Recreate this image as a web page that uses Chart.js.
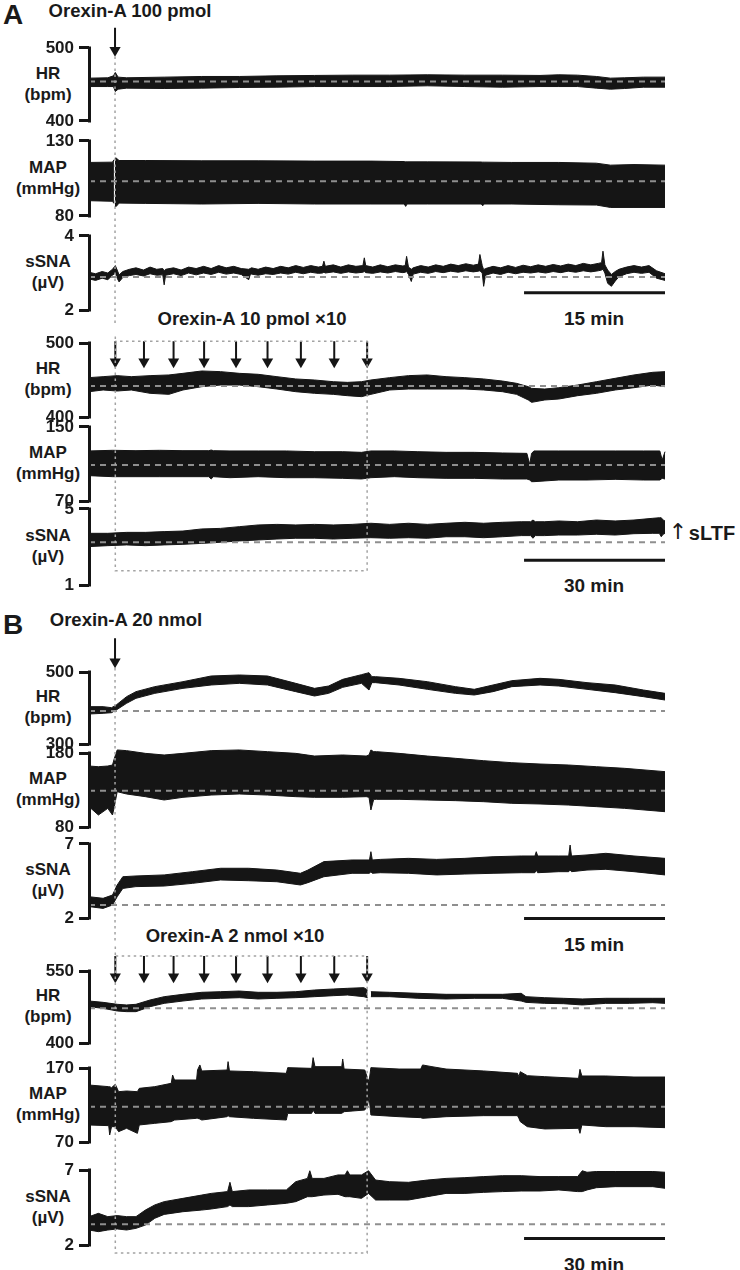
<!DOCTYPE html>
<html>
<head>
<meta charset="utf-8">
<script src="https://cdn.jsdelivr.net/npm/chart.js@4.4.1/dist/chart.umd.min.js"></script>
<style>
  body { margin: 0; background: #fff; }
  #fig { position: relative; width: 740px; height: 1270px; overflow: hidden;
         font-family: 'Liberation Sans', Arial, sans-serif; font-weight: bold; color: #1a1a1a; }
  #fig canvas { position: absolute; left: 0; }
  .t { position: absolute; transform: translate(-50%, -50%); white-space: nowrap; line-height: 1; text-align: center; }
</style>
</head>
<body>
<div id="fig"></div>
<script>
// ---- time spans (min) and injections ----
const spanA1 = 61.3, spanA2 = 122.6, spanB1 = 61.3, spanB2 = 122.6;
const injA1 = [2.77];
const injA2 = [5.6, 11.7, 18.0, 24.5, 31.3, 38.0, 45.1, 52.2, 59.2];
const injB1 = [2.77];
const injB2 = [5.6, 11.7, 18.0, 24.5, 31.3, 38.0, 45.1, 52.2, 59.2];
const barA1 = 15, barA2 = 30, barB1 = 15, barB2 = 30;

// ---- A: Orexin-A 100 pmol ----
const tHrA1 = [0, 2.0, 2.6, 2.8, 3.1, 4, 8, 12, 16, 20, 24, 28, 32, 36, 40, 44, 48, 50, 52, 54, 55.5, 57, 59, 61.3];
const hrA1Hi = [458.7, 459.2, 461.9, 466.5, 460.1, 459.2, 460.1, 461.0, 461.0, 461.9, 462.4, 462.8, 462.8, 463.3, 462.8, 462.8, 462.4, 463.3, 462.8, 461.0, 458.7, 459.2, 460.1, 460.1];
const hrA1Lo = [447.2, 447.2, 447.2, 440.4, 443.6, 445.0, 444.5, 445.0, 445.9, 446.3, 447.2, 447.2, 447.2, 448.2, 447.2, 446.3, 447.2, 447.2, 447.2, 445.0, 443.6, 444.5, 446.3, 446.3];

const tMapA1 = [0, 2.5, 2.65, 2.7, 2.75, 2.9, 3.2, 6, 12, 18, 24, 30, 33.55, 33.7, 33.85, 36, 41.75, 41.9, 42.05, 45, 50, 54, 55.5, 58, 61.3];
const mapA1Hi = [115.7, 115.9, 117.5, null, 118.6, 118.6, 117.0, 117.0, 116.8, 116.8, 116.6, 116.6, 116.3, 116.1, 116.1, 116.1, 116.0, 115.9, 115.9, 115.7, 115.7, 115.2, 113.9, 114.3, 113.9];
const mapA1Lo = [90.2, 89.8, 88.4, null, 86.4, 86.4, 88.6, 88.4, 88.0, 88.4, 88.0, 88.0, 88.0, 86.4, 88.0, 88.0, 88.0, 86.8, 88.0, 88.0, 87.5, 87.3, 85.7, 85.7, 85.7];

const tSnaA1 = [0, 0.7, 1.4, 2.0, 2.5, 2.8, 3.0, 3.2, 3.6, 4.3, 5, 5.8, 6.5, 7.2, 7.85, 8.0, 8.15, 9, 9.8, 10.6,
  11.4, 12.2, 13, 13.8, 14.6, 15.4, 16.2, 17.0, 17.15, 17.3, 18, 18.8, 19.6, 20.4, 21.2, 22, 22.8, 23.6, 24.4, 24.85,
  25.0, 25.15, 26, 26.8, 27.6, 28.4, 29.15, 29.3, 29.45, 30.2, 31, 31.8, 32.6, 33.4, 33.65, 33.8, 34.0, 34.3, 34.5, 35.3,
  36.1, 36.9, 37.7, 38.5, 39.3, 40.1, 40.9, 41.45, 41.6, 41.85, 42.0, 42.2, 43, 43.8, 44.6, 45.4, 46.2, 47, 47.8, 48.6,
  49.4, 50.2, 51, 51.8, 52.6, 53.4, 54.2, 54.55, 54.7, 54.9, 55.2, 55.6, 56.0, 56.4, 57.2, 58, 58.8, 59.6, 60.4, 61.3];
const snaA1Hi = [3.02, 2.98, 3.04, 3.00, 3.10, 3.20, 3.08, 2.95, 3.04, 3.10, 3.14, 3.08, 3.16, 3.10, 3.12, 3.06, 3.10, 3.14, 3.08, 3.16,
  3.12, 3.18, 3.12, 3.20, 3.14, 3.18, 3.12, 3.10, 3.12, 3.14, 3.10, 3.16, 3.12, 3.18, 3.14, 3.20, 3.15, 3.20, 3.16, 3.18,
  3.32, 3.18, 3.22, 3.16, 3.22, 3.18, 3.20, 3.41, 3.20, 3.16, 3.22, 3.17, 3.22, 3.19, 3.20, 3.45, 3.16, 3.10, 3.14, 3.20,
  3.16, 3.22, 3.18, 3.24, 3.20, 3.25, 3.21, 3.24, 3.50, 3.20, 3.09, 3.12, 3.18, 3.14, 3.20, 3.15, 3.21, 3.17, 3.22, 3.18,
  3.23, 3.19, 3.24, 3.20, 3.26, 3.22, 3.26, 3.28, 3.59, 3.22, 3.08, 2.96, 3.04, 3.10, 3.16, 3.20, 3.16, 3.20, 3.06, 2.98];
const snaA1Lo = [2.84, 2.80, 2.86, 2.82, 2.94, 3.00, 2.86, 2.76, 2.88, 2.93, 2.96, 2.92, 2.98, 2.94, 2.95, 2.68, 2.94, 2.98, 2.93, 3.00,
  2.95, 3.00, 2.96, 3.02, 2.97, 3.00, 2.96, 2.82, 2.95, 2.97, 2.94, 2.98, 2.96, 3.00, 2.97, 3.02, 2.98, 3.02, 2.99, 3.00,
  3.02, 3.00, 3.03, 2.99, 3.03, 3.00, 3.02, 3.04, 3.01, 2.99, 3.03, 3.00, 3.04, 3.01, 3.02, 3.04, 2.96, 2.77, 2.97, 3.02,
  2.99, 3.04, 3.01, 3.05, 3.02, 3.06, 3.03, 3.05, 3.06, 3.00, 2.64, 2.94, 3.00, 2.96, 3.02, 2.98, 3.02, 3.00, 3.03, 3.00,
  3.04, 3.01, 3.05, 3.02, 3.06, 3.03, 3.06, 3.08, 3.10, 3.00, 2.72, 2.64, 2.78, 2.90, 2.98, 3.02, 2.99, 3.02, 2.86, 2.80];

// ---- A: Orexin-A 10 pmol x10 ----
const tHrA2 = [0, 3, 6, 9, 13, 17, 20, 24, 28, 32, 36, 40, 44, 48, 52, 55, 58, 60, 64, 68, 72, 76, 80, 84, 88, 91, 93.5, 94.2, 97, 100, 104, 108, 112, 116, 120, 122.6];
const hrA2Hi = [453.2, 454.5, 455.9, 454.5, 455.9, 456.8, 459.0, 462.2, 461.3, 459.0, 457.7, 454.5, 451.4, 450.0, 447.7, 446.8, 447.7, 450.0, 453.2, 455.9, 456.8, 454.5, 453.2, 451.4, 448.6, 445.5, 441.0, 438.7, 437.8, 439.6, 443.2, 447.7, 452.3, 456.8, 460.4, 461.3];
const hrA2Lo = [434.2, 436.5, 435.1, 436.5, 432.0, 430.6, 436.5, 441.0, 443.2, 443.2, 441.0, 437.8, 434.2, 432.0, 430.6, 428.8, 427.5, 430.6, 436.5, 437.8, 437.8, 437.8, 437.8, 436.5, 434.2, 430.6, 423.0, 419.8, 423.0, 424.3, 428.8, 432.0, 436.5, 439.6, 443.2, 441.0];

const tMapA2 = [0, 5, 10, 15, 20, 25.5, 26, 26.5, 30, 36, 42, 48, 54, 58, 60, 65, 70, 76, 82, 88, 93.2, 93.8, 94.2, 94.7, 100, 106, 112, 118, 121.5, 122, 122.6];
const mapA2Hi = [124.1, 124.8, 124.4, 124.8, 124.4, 124.4, 125.1, 124.4, 124.1, 124.1, 124.1, 123.3, 123.3, 122.6, 124.1, 124.1, 123.3, 122.6, 122.6, 121.9, 121.5, 109.6, 121.5, 124.1, 124.1, 124.1, 124.1, 124.1, 124.1, 114.3, 123.3];
const mapA2Lo = [97.4, 96.3, 96.3, 96.3, 96.3, 96.3, 93.8, 96.3, 95.2, 96.3, 95.2, 95.2, 94.5, 93.8, 95.2, 96.3, 95.2, 94.5, 94.5, 93.8, 93.8, 92.7, 90.9, 90.9, 92.7, 92.7, 93.4, 92.7, 92.7, 94.5, 93.8];

const tSnaA2 = [0, 4, 8, 12, 16, 20, 24, 28, 32, 36, 40, 44, 48, 52, 56, 60, 64, 68, 72, 76, 80, 84, 88, 92, 94, 94.5, 95, 97, 100, 104, 108, 112, 116, 120, 121.4, 121.8, 122.2, 122.6];
const snaA2Hi = [3.72, 3.72, 3.77, 3.77, 3.81, 3.84, 3.95, 3.98, 4.07, 4.16, 4.19, 4.16, 4.19, 4.16, 4.19, 4.25, 4.19, 4.25, 4.19, 4.25, 4.30, 4.25, 4.30, 4.33, 4.33, 4.42, 4.33, 4.33, 4.37, 4.33, 4.42, 4.37, 4.42, 4.51, 4.54, 4.54, 4.42, 4.37];
const snaA2Lo = [3.02, 3.07, 3.11, 3.07, 3.11, 3.14, 3.19, 3.25, 3.32, 3.37, 3.42, 3.46, 3.46, 3.42, 3.46, 3.49, 3.46, 3.49, 3.46, 3.54, 3.54, 3.49, 3.54, 3.60, 3.60, 3.46, 3.60, 3.60, 3.63, 3.63, 3.67, 3.63, 3.70, 3.72, 3.72, 3.54, 3.67, 3.72];

// ---- B: Orexin-A 20 nmol ----
const tHrB1 = [0, 1.5, 2.4, 2.9, 4, 5, 7, 10, 13, 16, 19, 22, 24, 25.5, 27, 29, 29.8, 30.1, 30.5, 33, 36, 39, 41, 43, 45, 48, 50, 53, 56, 59, 61.3];
const hrB1Hi = [403.7, 403.7, 400.9, 408.3, 431.5, 445.4, 459.3, 473.1, 488.9, 491.7, 488.9, 468.5, 454.6, 461.1, 479.6, 492.6, 498.1, 487.0, 487.0, 482.4, 473.1, 459.3, 451.9, 463.9, 475.9, 482.4, 479.6, 470.4, 463.9, 450.0, 440.7];
const hrB1Lo = [383.3, 385.2, 387.0, 394.4, 413.0, 426.9, 440.7, 454.6, 463.9, 468.5, 463.9, 445.4, 433.3, 440.7, 457.4, 468.5, 450.0, 470.4, 470.4, 463.9, 451.9, 440.7, 436.1, 445.4, 459.3, 463.9, 461.1, 451.9, 442.6, 431.5, 422.2];

const tMapB1 = [0, 1, 2, 2.5, 2.7, 3, 4, 6, 8, 10, 13, 16, 19, 22, 24, 27, 29.5, 29.8, 30, 30.3, 30.6, 33, 36, 39, 42, 45, 48, 51, 54, 57, 61.3];
const mapB1Hi = [162.4, 161.5, 162.4, 163.8, 172.8, 184.1, 183.2, 179.5, 177.3, 179.5, 183.2, 184.1, 181.8, 179.5, 175.9, 177.3, 175.9, 177.3, 184.1, 181.8, 181.8, 179.5, 175.9, 172.8, 169.6, 166.9, 165.1, 163.8, 161.5, 159.3, 154.8];
const mapB1Lo = [107.5, 96.2, 105.2, 96.2, 107.5, 127.7, 124.6, 121.0, 116.5, 120.1, 123.2, 124.6, 123.2, 121.0, 120.1, 120.1, 121.0, 120.1, 103.0, 117.4, 117.4, 117.4, 116.5, 115.6, 114.2, 112.0, 111.1, 109.7, 107.5, 105.2, 100.7];

const tSnaB1 = [0, 1.5, 2.5, 3, 3.6, 5, 8, 11, 14, 17, 20, 22.5, 23.3, 25, 28, 29.85, 30, 30.15, 31, 34, 37, 40, 43, 46, 47.45, 47.6, 47.75, 50, 51.05, 51.2, 51.35, 53, 55, 58, 61.3];
const snaB1Hi = [3.44, 3.33, 3.55, 4.23, 4.79, 4.84, 4.91, 5.13, 5.36, 5.36, 5.24, 5.02, 5.24, 5.81, 5.92, 5.92, 6.48, 5.92, 5.96, 6.03, 5.96, 6.03, 6.14, 6.19, 6.19, 6.48, 6.19, 6.19, 6.19, 6.93, 6.19, 6.26, 6.37, 6.19, 6.03];
const snaB1Lo = [2.77, 2.65, 2.88, 3.44, 4.00, 4.12, 4.16, 4.34, 4.57, 4.52, 4.45, 4.23, 4.39, 4.79, 5.02, 5.02, 5.13, 5.02, 5.06, 5.02, 4.91, 4.97, 5.02, 5.06, 5.06, 5.24, 5.06, 5.13, 5.13, 5.24, 5.13, 5.24, 5.29, 5.13, 4.91];

// ---- B: Orexin-A 2 nmol x10 ----
const tHrB2 = [0, 3, 6, 8, 10, 13, 16, 20, 24, 28, 32, 36, 40, 44, 48, 52, 55, 58.5, 59.3, 59.6, 60, 64, 70, 76, 82, 88, 92, 92.5, 93, 97, 101, 105, 110, 115, 120, 122.6];
const hrB2Hi = [487.5, 484.7, 480.6, 479.2, 480.6, 489.6, 496.5, 501.4, 505.6, 506.9, 508.3, 505.6, 505.6, 506.9, 510.4, 512.5, 513.9, 515.3, 510.4, null, 506.9, 505.6, 503.5, 501.4, 501.4, 501.4, 503.5, 500.0, 496.5, 494.4, 493.1, 491.7, 493.1, 493.1, 493.1, 493.1];
const hrB2Lo = [475.7, 472.2, 466.7, 465.3, 465.3, 475.7, 482.6, 487.5, 491.7, 493.1, 494.4, 491.7, 493.1, 494.4, 496.5, 498.6, 500.0, 496.5, 494.4, null, 496.5, 496.5, 493.1, 491.7, 493.1, 493.1, 487.5, 486.1, 484.7, 482.6, 481.9, 479.2, 482.6, 482.6, 484.0, 482.6];

const tMapB2 = [0, 4.2, 4.4, 4.8, 5.6, 6.3, 8, 10.3, 10.7, 14, 17.5, 17.8, 18.2, 22.9, 23.1, 23.6, 24.0, 29.4, 29.6, 29.9,
  35, 42.0, 42.3, 47.4, 47.7, 48.1, 53.8, 54.0, 54.3, 58.7, 59.3, 59.6, 60.0, 66, 70.6, 71.0, 73.0, 76, 84, 91.2,
  91.5, 91.8, 93.3, 97, 104.2, 104.5, 104.9, 110, 116, 122.6];
const mapB2Hi = [147.0, 144.8, 144.8, 143.4, 147.9, 138.0, 138.9, 138.0, 142.5, 144.8, 149.3, 160.5, 153.8, 153.8, 167.3, 174.1, 166.0, 167.3, 178.6, 166.0,
  165.0, 162.8, 170.5, 169.5, 184.0, 171.8, 171.8, 182.2, 168.6, 167.3, 156.0, 151.5, 170.5, 168.6, 168.6, 174.1, 171.8, 168.6, 166.0, 162.8,
  158.3, 165.0, 159.6, 158.3, 156.0, 168.2, 159.2, 159.2, 157.8, 157.8];
const mapB2Lo = [93.0, 92.1, 79.5, 90.7, 90.7, 84.0, 88.5, 81.7, 93.0, 95.2, 97.5, 98.4, 99.7, 102.0, 102.0, 101.1, 99.7, 104.2, 105.6, 104.2,
  102.0, 99.7, 108.7, 108.7, 113.2, 108.7, 108.7, 109.6, 111.0, 113.2, 120.0, 131.3, 106.5, 104.2, 102.9, 102.0, 102.9, 104.2, 105.6, 105.6,
  102.0, 97.5, 90.7, 87.6, 88.5, 81.7, 93.0, 90.7, 90.7, 89.4];

const tSnaB2 = [0, 2, 4, 6, 8, 10, 12, 14, 16, 20, 24, 26, 29.5, 30, 30.5, 34, 38, 42, 44, 46.5, 47, 47.5, 50, 53, 54.5, 55, 55.5, 58, 59.5, 61, 64, 68, 72, 76, 80, 84, 88, 92, 96, 100, 104, 105, 106, 108, 112, 116, 120, 122.6];
const snaB2Hi = [3.89, 4.11, 3.89, 3.96, 3.89, 3.89, 4.33, 4.67, 4.89, 5.11, 5.33, 5.44, 5.56, 6.18, 5.56, 5.67, 5.67, 5.67, 6.22, 6.44, 6.95, 6.44, 6.44, 6.67, 6.67, 6.95, 6.67, 6.67, 6.95, 6.33, 6.22, 6.18, 6.33, 6.44, 6.49, 6.56, 6.62, 6.62, 6.56, 6.56, 6.56, 6.95, 6.85, 6.90, 6.90, 6.90, 6.90, 6.85];
const snaB2Lo = [3.00, 2.89, 3.00, 3.07, 3.00, 3.11, 3.33, 3.78, 4.04, 4.22, 4.33, 4.40, 4.56, 4.67, 4.56, 4.56, 4.67, 4.78, 4.89, 5.22, 5.22, 5.22, 5.33, 5.38, 5.22, 5.22, 5.22, 5.11, 5.44, 5.00, 5.00, 5.00, 5.22, 5.44, 5.44, 5.51, 5.56, 5.60, 5.60, 5.67, 5.56, 5.56, 5.67, 5.82, 5.89, 5.89, 5.89, 5.78];

// ---- axis ranges and pre-injection baselines ----
const rangeHrA1 = [400, 500], rangeMapA1 = [80, 130], rangeSnaA1 = [2, 4];
const rangeHrA2 = [400, 500], rangeMapA2 = [70, 150], rangeSnaA2 = [1, 5];
const rangeHrB1 = [300, 500], rangeMapB1 = [80, 180], rangeSnaB1 = [2, 7];
const rangeHrB2 = [400, 550], rangeMapB2 = [70, 170], rangeSnaB2 = [2, 7];
const baseA1 = [454.0, 103.2, 2.89];
const baseA2 = [441.9, 108.9, 3.25];
const baseB1 = [391.7, 129.1, 2.88];
const baseB2 = [472.2, 117.7, 3.38];

const names = [['HR', '(bpm)'], ['MAP', '(mmHg)'], ['sSNA', '(µV)']];
const ink = '#151515';
Chart.defaults.font.family = "'Liberation Sans', Arial, sans-serif";

const fig = document.getElementById('fig');

function addCanvas(top, h, z) {
  const c = document.createElement('canvas');
  c.width = 740; c.height = h;
  c.style.top = top + 'px';
  c.style.zIndex = z;
  fig.appendChild(c);
  return c;
}

function addText(html, x, y, size, extra) {
  const d = document.createElement('div');
  d.className = 't';
  d.style.left = x + 'px';
  d.style.top = y + 'px';
  d.style.fontSize = size + 'px';
  if (extra) Object.assign(d.style, extra);
  d.innerHTML = html;
  fig.appendChild(d);
}

const xy = (t, v) => t.map((x, i) => ({ x: x, y: v[i] }));

// vertical axis line only between the two labelled ticks (bracket look)
const spine = {
  id: 'spine',
  afterDraw(chart, args, opts) {
    const ys = chart.scales.y, ctx = chart.ctx;
    const x = ys.right + 0.5;
    ctx.save();
    ctx.strokeStyle = ink;
    ctx.lineWidth = 3;
    ctx.beginPath();
    ctx.moveTo(x, ys.getPixelForValue(opts.hi) - 1.5);
    ctx.lineTo(x, ys.getPixelForValue(opts.lo) + 1.5);
    ctx.stroke();
    ctx.restore();
  }
};

// one trace panel: black band between lo and hi, dashed baseline
function tracePanel(p) {
  const pad = 14, ext = 10;
  const cv = addCanvas(p.top - pad, p.bottom - p.top + 2 * pad, 1);
  const [lo, hi] = p.range;
  const extV = (hi - lo) * ext / (p.bottom - p.top);
  new Chart(cv, {
    type: 'line',
    data: {
      datasets: [
        { data: xy(p.t, p.lo), borderColor: ink, borderWidth: 1, fill: false },
        { data: xy(p.t, p.hi), borderColor: ink, borderWidth: 1, backgroundColor: ink, fill: '-1' },
        { data: [{ x: 0, y: p.base }, { x: p.span, y: p.base }], borderColor: '#8f8f8f',
          borderWidth: 2, borderDash: [6, 5], fill: false, order: -1 }
      ]
    },
    options: {
      responsive: false, animation: false, devicePixelRatio: 1,
      layout: { padding: { top: pad - ext, bottom: pad - ext, left: 0, right: 75 } },
      plugins: { legend: { display: false }, tooltip: { enabled: false }, spine: { lo: lo, hi: hi } },
      elements: { point: { radius: 0 }, line: { tension: 0 } },
      datasets: { line: { clip: false, spanGaps: false } },
      scales: {
        x: { type: 'linear', min: 0, max: p.span, display: false },
        y: {
          min: lo - extV, max: hi + extV,
          afterBuildTicks: ax => { ax.ticks = [{ value: lo }, { value: hi }]; },
          afterFit: ax => { ax.width = 89; ax.paddingTop = 0; ax.paddingBottom = 0; },
          ticks: { color: '#1a1a1a', padding: 5, font: { size: 17, weight: 'bold' } },
          grid: { drawOnChartArea: false, drawTicks: true, tickLength: 10, tickWidth: 3, color: ink },
          border: { display: false }
        }
      }
    },
    plugins: [spine]
  });
  const cy = (p.top + p.bottom) / 2 - 1;
  addText(p.name[0] + '<br>' + p.name[1], 48, cy, 17, { lineHeight: '21px' });
}

// arrows, dotted guide lines and the time scale bar of one recording
function overlay(g) {
  const cv = addCanvas(g.top, g.bottom - g.top, 2);
  const t0 = g.inj[0], tN = g.inj[g.inj.length - 1];
  let guide;
  if (g.inj.length > 1) {
    guide = [{ x: t0, y: g.lineTop }, { x: t0, y: g.lineBottom }, { x: tN, y: g.lineBottom },
             { x: tN, y: g.arrowTop }, { x: t0, y: g.arrowTop }];
  } else {
    guide = [{ x: t0, y: g.lineTop }, { x: t0, y: g.lineBottom }];
  }
  const shafts = [], heads = [];
  g.inj.forEach(t => {
    shafts.push({ x: t, y: g.arrowTop }, { x: t, y: g.arrowTip - 8 }, { x: t, y: null });
    heads.push({ x: t, y: g.arrowTip - 6.5 });
  });
  new Chart(cv, {
    type: 'line',
    data: {
      datasets: [
        { data: guide, borderColor: '#a3a3a3', borderWidth: 1.5, borderDash: [2.5, 3.5], pointRadius: 0 },
        { data: shafts, borderColor: ink, borderWidth: 2, pointRadius: 0, spanGaps: false },
        { data: heads, showLine: false, pointStyle: 'triangle', rotation: 180, pointRadius: 6.5,
          pointBackgroundColor: ink, pointBorderWidth: 0 },
        { data: [{ x: g.span - g.bar, y: g.barY }, { x: g.span, y: g.barY }], borderColor: ink,
          borderWidth: 3, pointRadius: 0 }
      ]
    },
    options: {
      responsive: false, animation: false, devicePixelRatio: 1,
      layout: { padding: { top: 0, bottom: 0, left: 89, right: 75 } },
      plugins: { legend: { display: false }, tooltip: { enabled: false } },
      elements: { line: { tension: 0 } },
      datasets: { line: { clip: false } },
      scales: {
        x: { type: 'linear', min: 0, max: g.span, display: false },
        y: { type: 'linear', min: g.top, max: g.bottom, reverse: true, display: false }
      }
    }
  });
  addText(g.bar + ' min', 594, g.barY + 20, 19);
}

const panels = [
  { top: 48, bottom: 121, t: tHrA1, hi: hrA1Hi, lo: hrA1Lo, range: rangeHrA1, base: baseA1[0], span: spanA1, name: names[0] },
  { top: 141, bottom: 216, t: tMapA1, hi: mapA1Hi, lo: mapA1Lo, range: rangeMapA1, base: baseA1[1], span: spanA1, name: names[1] },
  { top: 236, bottom: 310, t: tSnaA1, hi: snaA1Hi, lo: snaA1Lo, range: rangeSnaA1, base: baseA1[2], span: spanA1, name: names[2] },
  { top: 343, bottom: 417, t: tHrA2, hi: hrA2Hi, lo: hrA2Lo, range: rangeHrA2, base: baseA2[0], span: spanA2, name: names[0] },
  { top: 427, bottom: 501, t: tMapA2, hi: mapA2Hi, lo: mapA2Lo, range: rangeMapA2, base: baseA2[1], span: spanA2, name: names[1] },
  { top: 509, bottom: 585, t: tSnaA2, hi: snaA2Hi, lo: snaA2Lo, range: rangeSnaA2, base: baseA2[2], span: spanA2, name: names[2] },
  { top: 672, bottom: 744, t: tHrB1, hi: hrB1Hi, lo: hrB1Lo, range: rangeHrB1, base: baseB1[0], span: spanB1, name: names[0] },
  { top: 753, bottom: 827, t: tMapB1, hi: mapB1Hi, lo: mapB1Lo, range: rangeMapB1, base: baseB1[1], span: spanB1, name: names[1] },
  { top: 844, bottom: 918, t: tSnaB1, hi: snaB1Hi, lo: snaB1Lo, range: rangeSnaB1, base: baseB1[2], span: spanB1, name: names[2] },
  { top: 971, bottom: 1043, t: tHrB2, hi: hrB2Hi, lo: hrB2Lo, range: rangeHrB2, base: baseB2[0], span: spanB2, name: names[0] },
  { top: 1068, bottom: 1142, t: tMapB2, hi: mapB2Hi, lo: mapB2Lo, range: rangeMapB2, base: baseB2[1], span: spanB2, name: names[1] },
  { top: 1170, bottom: 1245, t: tSnaB2, hi: snaB2Hi, lo: snaB2Lo, range: rangeSnaB2, base: baseB2[2], span: spanB2, name: names[2] }
];
panels.forEach(tracePanel);

overlay({ top: 0, bottom: 330, span: spanA1, inj: injA1, arrowTop: 22, arrowTip: 52, lineTop: 52, lineBottom: 330, bar: barA1, barY: 298 });
overlay({ top: 330, bottom: 600, span: spanA2, inj: injA2, arrowTop: 335, arrowTip: 363, lineTop: 330, lineBottom: 576, bar: barA2, barY: 565 });
overlay({ top: 600, bottom: 950, span: spanB1, inj: injB1, arrowTop: 633, arrowTip: 664, lineTop: 664, lineBottom: 950, bar: barB1, barY: 924 });
overlay({ top: 940, bottom: 1270, span: spanB2, inj: injB2, arrowTop: 950, arrowTip: 978, lineTop: 940, lineBottom: 1259, bar: barB2, barY: 1244 });

// titles and panel letters
addText('A', 13, 15, 28);
addText('B', 13, 625, 28);
addText('Orexin-A 100 pmol', 130, 11, 18.5);
addText('Orexin-A 10 pmol ×10', 252, 319, 18.5);
addText('Orexin-A 20 nmol', 126, 620, 18.5);
addText('Orexin-A 2 nmol ×10', 235, 936, 18.5);
addText('↑', 678, 532, 22, { fontFamily: "'DejaVu Sans', sans-serif", fontWeight: 'normal' });
addText('sLTF', 712, 533, 20);
</script>
</body>
</html>
